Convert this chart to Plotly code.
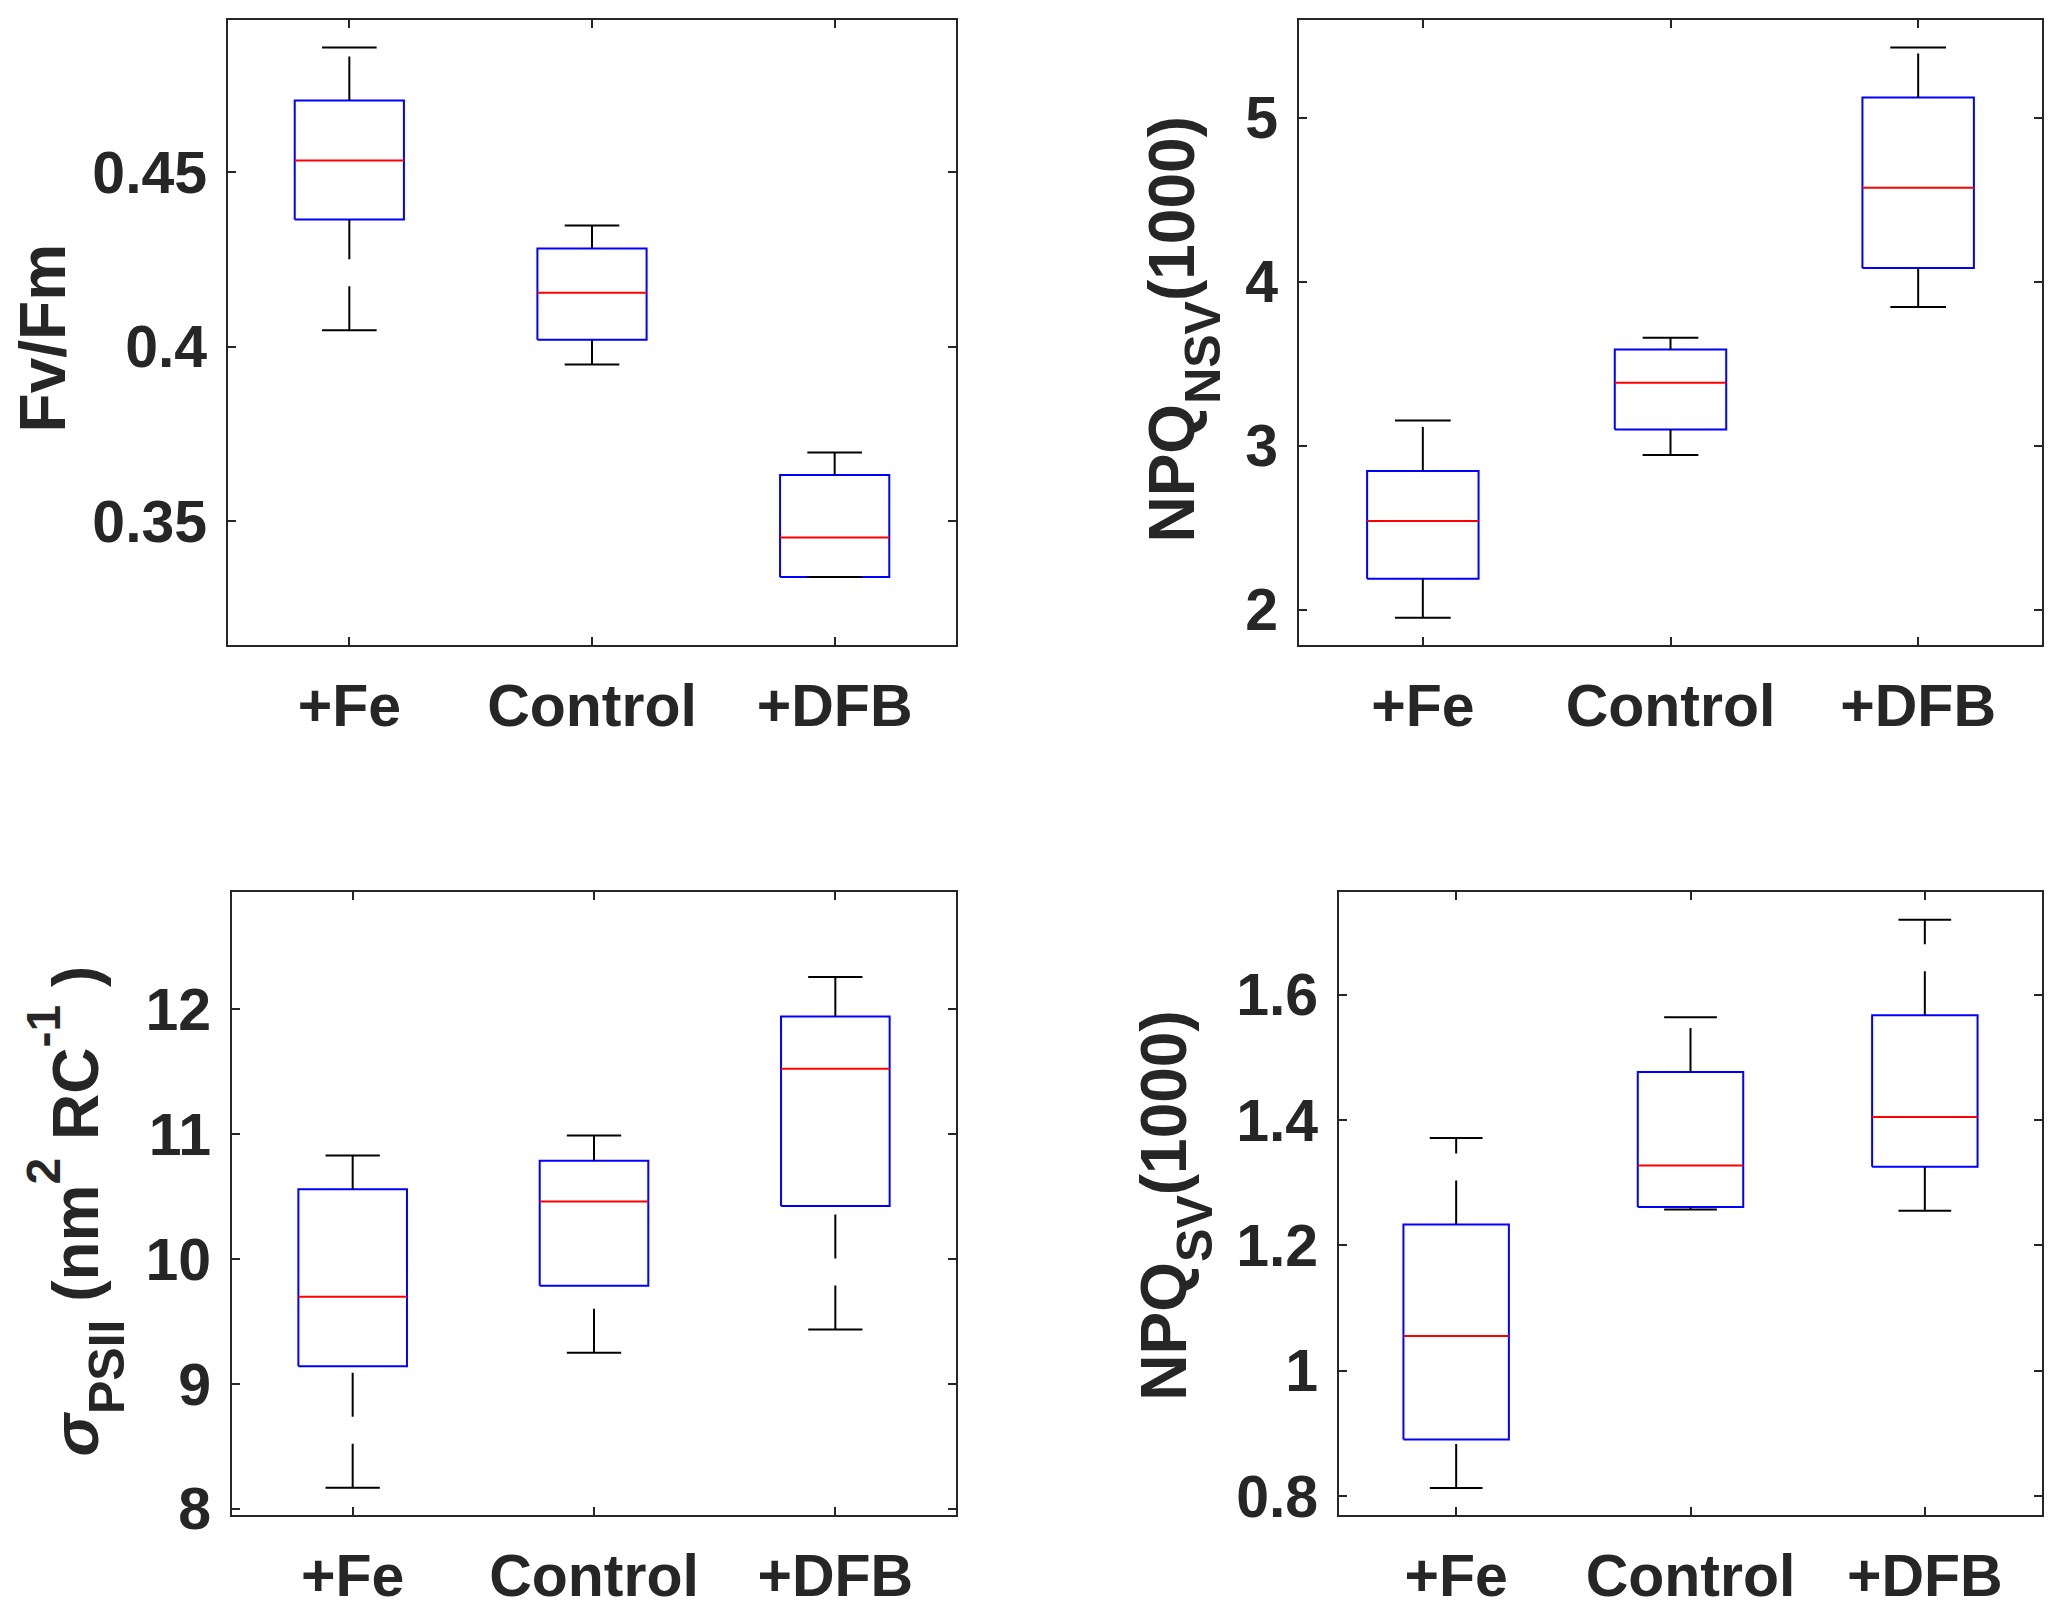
import plotly.graph_objects as go

### Data ###

groups = ["+Fe", "Control", "+DFB"]

# Fv/Fm
fvfm_low = [0.4047, 0.3949, 0.3340]
fvfm_q1 = [0.4364, 0.4020, 0.3340]
fvfm_med = [0.4533, 0.4154, 0.3453]
fvfm_q3 = [0.4705, 0.4281, 0.3632]
fvfm_high = [0.4857, 0.4347, 0.3697]

# NPQ_NSV (1000)
nsv_low = [1.950, 2.943, 3.846]
nsv_q1 = [2.188, 3.099, 4.084]
nsv_med = [2.541, 3.384, 4.574]
nsv_q3 = [2.846, 3.586, 5.124]
nsv_high = [3.154, 3.659, 5.429]

# sigma PSII
sig_low = [8.169, 9.249, 9.435]
sig_q1 = [9.142, 9.787, 10.425]
sig_med = [9.697, 10.461, 11.525]
sig_q3 = [10.558, 10.787, 11.943]
sig_high = [10.830, 10.990, 12.259]

# NPQ_SV (1000)
sv_low = [0.8126, 1.257, 1.255]
sv_q1 = [0.890, 1.261, 1.325]
sv_med = [1.055, 1.327, 1.4046]
sv_q3 = [1.2331, 1.4762, 1.567]
sv_high = [1.3709, 1.5636, 1.7192]

### Figure setup ###

W, H = 2061, 1615
INK = "#262626"
FONT = "Arial, Liberation Sans, sans-serif"
HALF_BOX = 0.225
HALF_CAP = 0.1125

# matlab-ish tex sub/superscripts (bigger shift than plotly's <sub>/<sup>)
def sub(s):
    return '<span style="font-size:50px;baseline-shift:-26px">' + s + '</span>'

def sup(s):
    return '<span style="font-size:48px;baseline-shift:38px">' + s + '</span>'

panels = [
    dict(d=(fvfm_low, fvfm_q1, fvfm_med, fvfm_q3, fvfm_high), yr=[0.3145, 0.4936],
         tv=[0.35, 0.4, 0.45], tt=["0.35", "0.4", "0.45"], title="Fv/Fm",
         box=(220, 948, 12, 648), tpos=(35, 336)),
    dict(d=(nsv_low, nsv_q1, nsv_med, nsv_q3, nsv_high), yr=[1.783, 5.598],
         tv=[2, 3, 4, 5], tt=["2", "3", "4", "5"],
         title="NPQ" + sub("NSV") + "(1000)",
         box=(1291, 2034, 12, 648), tpos=(1176, 327)),
    dict(d=(sig_low, sig_q1, sig_med, sig_q3, sig_high), yr=[7.947, 12.94],
         tv=[8, 9, 10, 11, 12], tt=["8", "9", "10", "11", "12"],
         title="<i>σ</i>" + sub("PSII") + " (nm" + sup("2") + " RC" + sup("-1") + " )",
         box=(224, 948, 899, 1533), tpos=(68, 1224)),
    dict(d=(sv_low, sv_q1, sv_med, sv_q3, sv_high), yr=[0.7689, 1.7636],
         tv=[0.8, 1.0, 1.2, 1.4, 1.6], tt=["0.8", "1", "1.2", "1.4", "1.6"],
         title="NPQ" + sub("SV") + "(1000)",
         box=(1331, 2034, 899, 1533), tpos=(1168, 1218)),
]

fig = go.Figure()
annotations = []
layout_axes = {}

for k, p in enumerate(panels):
    n = "" if k == 0 else str(k + 1)
    xa, ya = "x" + n, "y" + n
    low, q1, med, q3, high = p["d"]

    for i in range(len(groups)):
        xc = i + 1
        # box
        fig.add_trace(go.Scatter(
            x=[xc - HALF_BOX, xc + HALF_BOX, xc + HALF_BOX, xc - HALF_BOX, xc - HALF_BOX],
            y=[q1[i], q1[i], q3[i], q3[i], q1[i]],
            mode="lines", line=dict(color="#0000ff", width=2),
            xaxis=xa, yaxis=ya, showlegend=False, hoverinfo="skip"))
        # whiskers (drawn bottom to top like matlab)
        for y0, y1 in [(low[i], q1[i]), (q3[i], high[i])]:
            fig.add_trace(go.Scatter(
                x=[xc, xc], y=[y0, y1], mode="lines",
                line=dict(color="black", width=2, dash="44px,27px"),
                xaxis=xa, yaxis=ya, showlegend=False, hoverinfo="skip"))
        # caps
        fig.add_trace(go.Scatter(
            x=[xc - HALF_CAP, xc + HALF_CAP, None, xc - HALF_CAP, xc + HALF_CAP],
            y=[low[i], low[i], None, high[i], high[i]],
            mode="lines", line=dict(color="black", width=2),
            xaxis=xa, yaxis=ya, showlegend=False, hoverinfo="skip"))
        # median
        fig.add_trace(go.Scatter(
            x=[xc - HALF_BOX, xc + HALF_BOX], y=[med[i], med[i]],
            mode="lines", line=dict(color="#ff0000", width=2),
            xaxis=xa, yaxis=ya, showlegend=False, hoverinfo="skip"))

    x0, x1, y0, y1 = p["box"]
    common = dict(showline=True, linecolor=INK, linewidth=2, mirror="ticks",
                  ticks="inside", ticklen=8, tickwidth=2, tickcolor=INK,
                  showgrid=False, zeroline=False,
                  tickfont=dict(family=FONT, size=59, color=INK, weight="bold"))
    layout_axes["xaxis" + n] = dict(
        common, domain=[x0 / W, x1 / W], range=[0.5, 3.5], anchor=ya,
        tickvals=[1, 2, 3], ticktext=groups, ticklabelstandoff=8)
    layout_axes["yaxis" + n] = dict(
        common, domain=[1 - y1 / H, 1 - y0 / H], range=p["yr"], anchor=xa,
        tickvals=p["tv"], ticktext=p["tt"], ticklabelstandoff=7)

    tx, ty = p["tpos"]
    annotations.append(dict(
        text=p["title"], x=tx / W, y=1 - ty / H, xref="paper", yref="paper",
        xanchor="center", yanchor="middle", textangle=-90, showarrow=False,
        font=dict(family=FONT, size=64, color=INK, weight="bold")))

fig.update_layout(
    width=W, height=H, autosize=False,
    margin=dict(l=0, r=0, t=0, b=0),
    paper_bgcolor="white", plot_bgcolor="white",
    annotations=annotations, **layout_axes)

fig.write_html("out.html")
